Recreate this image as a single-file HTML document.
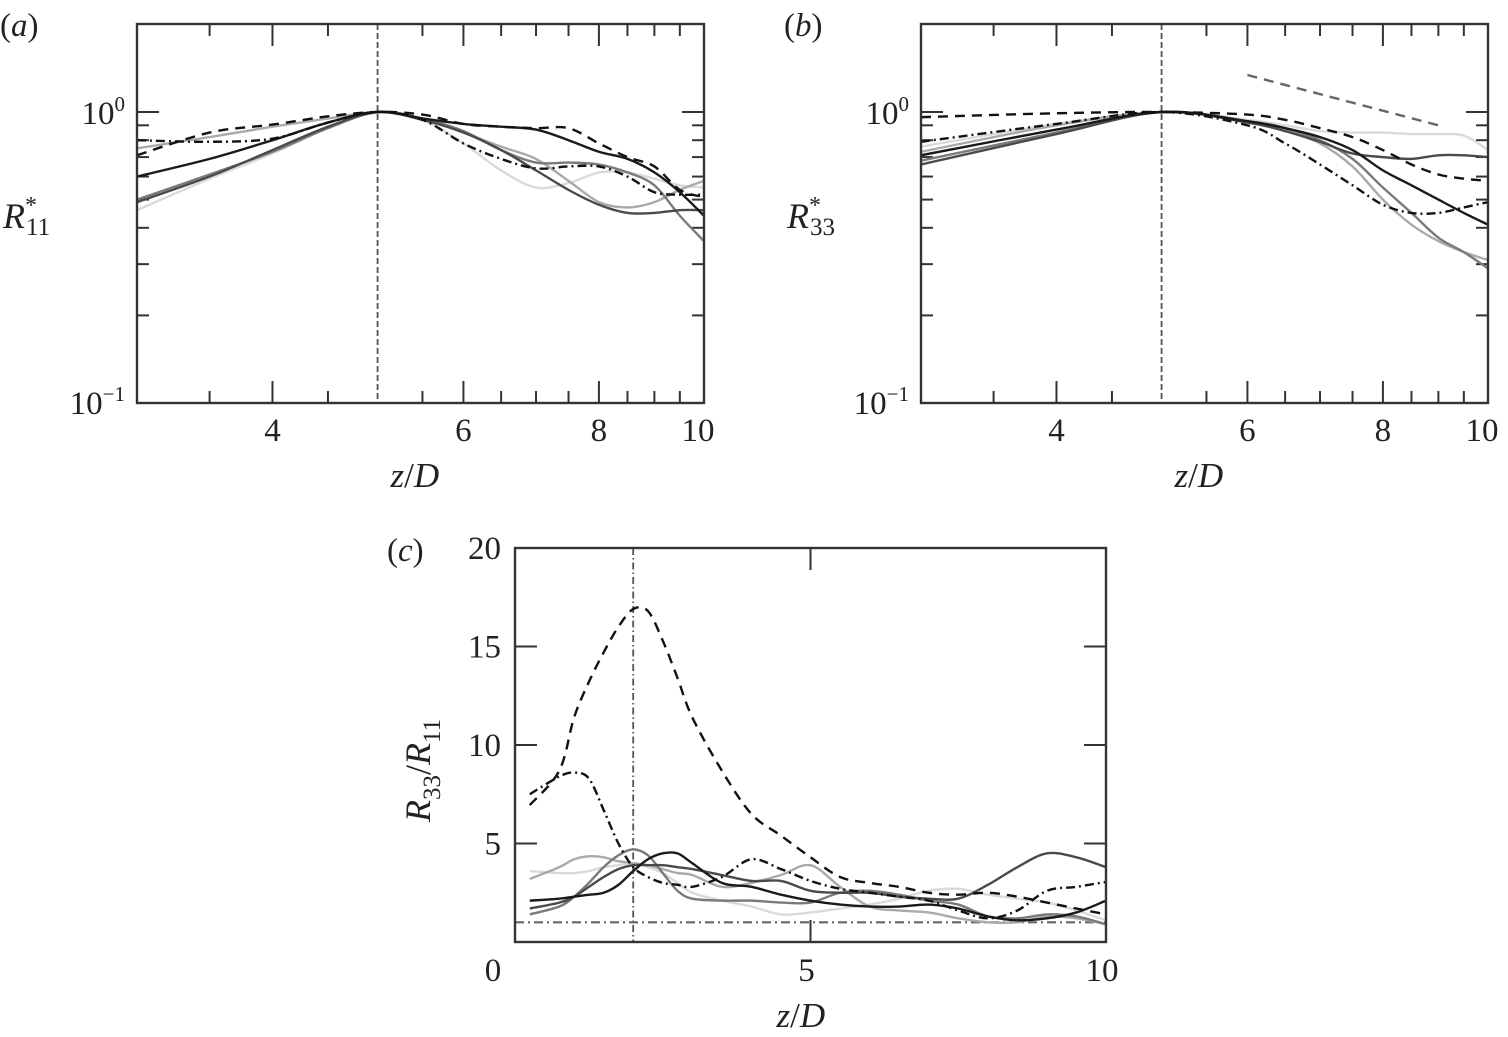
<!DOCTYPE html>
<html><head><meta charset="utf-8">
<style>
html,body{margin:0;padding:0;background:#fff;}
svg{display:block;font-family:"Liberation Serif",serif;}
</style></head>
<body>
<svg id="fig" width="1508" height="1037" viewBox="0 0 1508 1037" xmlns="http://www.w3.org/2000/svg"></svg>
<script>
// ---------- data ----------
const zA = [3,3.5,4,4.5,5,5.5,6,6.5,7,7.5,8,8.5,9,9.5,10];
const a_dashed  = [0.71,0.85,0.905,0.966,1,0.98,0.91,0.89,0.88,0.88,0.78,0.70,0.65,0.54,0.51];
const a_dashdot = [0.80,0.79,0.81,0.92,1,0.94,0.78,0.69,0.64,0.65,0.65,0.60,0.53,0.52,0.52];
const a_black   = [0.60,0.69,0.80,0.92,1,0.95,0.91,0.89,0.87,0.80,0.73,0.69,0.62,0.53,0.44];
const a_dark    = [0.49,0.60,0.74,0.89,1,0.94,0.85,0.74,0.63,0.54,0.48,0.45,0.45,0.46,0.46];
const a_mid     = [0.50,0.61,0.73,0.88,1,0.95,0.86,0.74,0.67,0.67,0.66,0.62,0.56,0.44,0.36];
const a_light   = [0.75,0.82,0.89,0.95,1,0.95,0.85,0.76,0.69,0.58,0.49,0.47,0.49,0.54,0.58];
const a_vlight  = [0.46,0.59,0.72,0.88,1,0.94,0.78,0.63,0.55,0.57,0.62,0.62,0.59,0.56,0.55];

const zB = [3,4,5,6,6.5,7,7.5,8,8.5,9,9.5,10];
const b_dashed  = [0.96,0.99,1,0.98,0.94,0.88,0.82,0.74,0.66,0.61,0.59,0.58];
const b_dashdot = [0.79,0.91,1,0.90,0.78,0.66,0.56,0.48,0.45,0.45,0.47,0.49];
const b_black   = [0.71,0.87,1,0.93,0.88,0.82,0.74,0.63,0.56,0.50,0.45,0.41];
const b_dark    = [0.66,0.84,1,0.92,0.86,0.79,0.72,0.70,0.69,0.71,0.71,0.70];
const b_mid     = [0.68,0.85,1,0.93,0.88,0.80,0.69,0.55,0.45,0.37,0.33,0.29];
const b_light   = [0.73,0.90,1,0.93,0.86,0.78,0.65,0.50,0.41,0.36,0.33,0.31];
const b_vlight  = [0.76,0.91,1,0.94,0.90,0.86,0.85,0.85,0.84,0.84,0.83,0.74];
const b_slopeZ  = [6,9];
const b_slopeR  = [1.34,0.90];

const zC = [0.25,0.75,1,1.25,1.5,1.75,2,2.25,2.5,2.75,3,3.5,4,4.5,5,5.5,6,6.5,7,7.5,8,8.5,9,9.5,10];
const c_dashed  = [6.95,8.7,11.4,13.2,14.7,16.0,16.9,16.8,15.3,13.4,11.4,8.7,6.5,5.4,4.3,3.3,3.0,2.8,2.5,2.4,2.5,2.3,2.0,1.7,1.4];
const c_dashdot = [7.5,8.4,8.6,8.3,6.7,5.0,3.8,3.3,3.0,2.9,2.8,3.3,4.2,3.7,3.1,2.7,2.5,2.3,2.1,1.6,1.2,1.6,2.6,2.8,3.05];
const c_black   = [2.1,2.2,2.3,2.4,2.5,2.9,3.6,4.2,4.5,4.5,4.0,3.0,2.8,2.4,2.1,1.9,1.8,1.8,1.9,1.7,1.3,1.1,1.2,1.5,2.1];
const c_dark    = [1.7,2.0,2.3,2.8,3.3,3.7,3.9,3.9,3.9,3.8,3.7,3.4,3.1,3.1,2.6,2.5,2.5,2.3,2.2,2.2,2.9,3.8,4.5,4.3,3.8];
const c_mid     = [1.4,1.8,2.3,3.0,3.8,4.4,4.7,4.4,3.5,2.6,2.2,2.1,2.1,2.0,2.0,2.5,2.6,2.4,2.1,1.9,1.3,1.2,1.4,1.3,0.9];
const c_light   = [3.2,3.8,4.2,4.35,4.3,4.1,4.0,3.9,3.7,3.5,3.4,2.8,3.0,3.4,3.9,2.8,1.8,1.6,1.5,1.2,1.0,1.0,1.3,1.2,0.9];
const c_vlight  = [3.6,3.5,3.5,3.6,3.8,3.9,4.0,3.8,3.5,3.0,2.5,2.1,1.8,1.4,1.5,1.7,1.9,2.2,2.6,2.7,2.4,2.2,2.0,1.6,1.1];

const xTicksAmajor = [4,6,8,10];
const xTicksAminor = [3.5,4.5,5.5,6.5,7,7.5,8.5,9,9.5];
const yTicksLogMinor = [0.2,0.3,0.4,0.5,0.6,0.7,0.8,0.9,2];
const yTicksC = [0,5,10,15,20];
const yLabelsC = [5,10,15,20];
const xTicksC = [0,5,10];

// ---------- helpers ----------
const NS="http://www.w3.org/2000/svg";
const svg=document.getElementById('fig');
function mk(tag,attrs,parent){const e=document.createElementNS(NS,tag);for(const k in attrs)e.setAttribute(k,attrs[k]);(parent||svg).appendChild(e);return e;}
function smooth(pts){
  let d=`M${pts[0][0].toFixed(2)},${pts[0][1].toFixed(2)}`;
  for(let i=0;i<pts.length-1;i++){
    const p0=pts[Math.max(0,i-1)],p1=pts[i],p2=pts[i+1],p3=pts[Math.min(pts.length-1,i+2)];
    const c1=[p1[0]+(p2[0]-p0[0])/6,p1[1]+(p2[1]-p0[1])/6];
    const c2=[p2[0]-(p3[0]-p1[0])/6,p2[1]-(p3[1]-p1[1])/6];
    d+=` C${c1[0].toFixed(2)},${c1[1].toFixed(2)} ${c2[0].toFixed(2)},${c2[1].toFixed(2)} ${p2[0].toFixed(2)},${p2[1].toFixed(2)}`;
  }
  return d;
}
const styles={
  dashed:{stroke:'#111',dash:'10,7',w:2.4},
  dashdot:{stroke:'#111',dash:'9,4,2,4',w:2.4},
  black:{stroke:'#1a1a1a',dash:'',w:2.4},
  dark:{stroke:'#4a4a4a',dash:'',w:2.4},
  mid:{stroke:'#7a7a7a',dash:'',w:2.4},
  light:{stroke:'#aaaaaa',dash:'',w:2.4},
  vlight:{stroke:'#dadada',dash:'',w:2.4}
};
function series(g,xs,ys,fx,fy,st,name){
  const pts=xs.map((x,i)=>[fx(x),fy(ys[i])]);
  const p=mk('path',{d:smooth(pts),fill:'none',stroke:st.stroke,'stroke-width':st.w,'stroke-dasharray':st.dash},g);
  
  
}
function txt(x,y,s,attrs,parent){const t=mk('text',Object.assign({x:x,y:y,'font-size':32,fill:'#222'},attrs||{}),parent);t.innerHTML=s;return t;}

// ---------- log panels ----------
function logPanel(ox,label,ylab,data,name,extra){
  const L=ox,R=ox+567,T=24,B=403;
  const fx=z=>L+(R-L)*Math.log10(z/3)/Math.log10(10/3);
  const fy=v=>112-291*Math.log10(v);
  const g=mk('g',{});
  
  
  const tk=mk('g',{stroke:'#333','stroke-width':2},g);
  xTicksAmajor.forEach(z=>{const x=fx(z);mk('line',{x1:x,y1:B,x2:x,y2:B-22},tk);mk('line',{x1:x,y1:T,x2:x,y2:T+22},tk);});
  xTicksAminor.forEach(z=>{const x=fx(z);mk('line',{x1:x,y1:B,x2:x,y2:B-12},tk);mk('line',{x1:x,y1:T,x2:x,y2:T+12},tk);});
  [1].forEach(v=>{const y=fy(v);mk('line',{x1:L,y1:y,x2:L+22,y2:y},tk);mk('line',{x1:R,y1:y,x2:R-22,y2:y},tk);});
  yTicksLogMinor.forEach(v=>{const y=fy(v);if(y>T+1){mk('line',{x1:L,y1:y,x2:L+12,y2:y},tk);mk('line',{x1:R,y1:y,x2:R-12,y2:y},tk);}});
  mk('line',{x1:fx(5),y1:T,x2:fx(5),y2:B,stroke:'#555','stroke-width':1.8,'stroke-dasharray':'6,3'},g);
  const clip='clip'+name;
  const cp=mk('clipPath',{id:clip},g);mk('rect',{x:L,y:T,width:R-L,height:B-T},cp);
  const sg=mk('g',{'clip-path':`url(#${clip})`},g);
  for(const k in data) series(sg,data[k].x,data[k].y,fx,fy,styles[k],name+'-'+k);
  if(extra) extra(sg,fx,fy);
  mk('rect',{x:L,y:T,width:R-L,height:B-T,fill:'none',stroke:'#333','stroke-width':2.4},g);
  xTicksAmajor.forEach(z=>{txt(z===10?fx(z)-6:fx(z),441,z,{'text-anchor':'middle','font-size':33},g);});
  txt(L-12,124,'10<tspan dy="-13" font-size="21">0</tspan>',{'text-anchor':'end','font-size':33},g);
  txt(L-12,414,'10<tspan dy="-13" font-size="21">−1</tspan>',{'text-anchor':'end','font-size':33},g);
  txt(L+(R-L)/2-30,487,'<tspan font-style="italic">z</tspan>/<tspan font-style="italic">D</tspan>',{'font-size':35},g);
  txt(ox-137,36,'(<tspan font-style="italic">'+label+'</tspan>)',{'font-size':33},g);
  txt(ox-134,228,'<tspan font-style="italic">R</tspan><tspan dy="-15" font-size="24">*</tspan><tspan dy="22" dx="-11" font-size="25">'+ylab+'</tspan>',{'font-size':36},g);
}
logPanel(137,'a','11',{
  vlight:{x:zA,y:a_vlight},light:{x:zA,y:a_light},mid:{x:zA,y:a_mid},dark:{x:zA,y:a_dark},
  black:{x:zA,y:a_black},dashdot:{x:zA,y:a_dashdot},dashed:{x:zA,y:a_dashed}},'panel-a');
logPanel(921,'b','33',{
  vlight:{x:zB,y:b_vlight},light:{x:zB,y:b_light},mid:{x:zB,y:b_mid},dark:{x:zB,y:b_dark},
  black:{x:zB,y:b_black},dashdot:{x:zB,y:b_dashdot},dashed:{x:zB,y:b_dashed}},'panel-b',
  (g,fx,fy)=>{
    const l=mk('line',{x1:fx(b_slopeZ[0]),y1:fy(b_slopeR[0]),x2:fx(b_slopeZ[1]),y2:fy(b_slopeR[1]),stroke:'#666','stroke-width':2.4,'stroke-dasharray':'10,7'},g);
    
    
  });

// ---------- panel c ----------
(function(){
  const L=515,R=1106,T=548,B=942;
  const fx=z=>L+(R-L)*z/10;
  const fy=v=>B-(B-T)*v/20;
  const g=mk('g',{});
  
  
  const tk=mk('g',{stroke:'#333','stroke-width':2},g);
  yTicksC.forEach(v=>{const y=fy(v);mk('line',{x1:L,y1:y,x2:L+22,y2:y},tk);mk('line',{x1:R,y1:y,x2:R-22,y2:y},tk);});
  xTicksC.forEach(z=>{const x=fx(z);mk('line',{x1:x,y1:B,x2:x,y2:B-22},tk);mk('line',{x1:x,y1:T,x2:x,y2:T+22},tk);});
  mk('line',{x1:fx(2),y1:T,x2:fx(2),y2:B,stroke:'#555','stroke-width':1.8,'stroke-dasharray':'7,3,1.5,3'},g);
  mk('line',{x1:L,y1:fy(1),x2:R,y2:fy(1),stroke:'#666','stroke-width':2.2,'stroke-dasharray':'9,4,2,4'},g);
  const cp=mk('clipPath',{id:'clipc'},g);mk('rect',{x:L,y:T,width:R-L,height:B-T},cp);
  const sg=mk('g',{'clip-path':'url(#clipc)'},g);
  const d={vlight:c_vlight,light:c_light,mid:c_mid,dark:c_dark,black:c_black,dashdot:c_dashdot,dashed:c_dashed};
  for(const k in d) series(sg,zC,d[k],fx,fy,styles[k],'panel-c-'+k);
  mk('rect',{x:L,y:T,width:R-L,height:B-T,fill:'none',stroke:'#333','stroke-width':2.4},g);
  yLabelsC.forEach(v=>txt(L-14,fy(v)+11,v,{'text-anchor':'end','font-size':33},g));
  txt(493,981,'0',{'text-anchor':'middle','font-size':33},g);
  txt(fx(5)-4,981,'5',{'text-anchor':'middle','font-size':33},g);
  txt(fx(10)-4,981,'10',{'text-anchor':'middle','font-size':33},g);
  txt(fx(5)-34,1027,'<tspan font-style="italic">z</tspan>/<tspan font-style="italic">D</tspan>',{'font-size':35},g);
  txt(387,561,'(<tspan font-style="italic">c</tspan>)',{'font-size':33},g);
  txt(0,0,'<tspan font-style="italic">R</tspan><tspan dy="10" font-size="25">33</tspan><tspan dy="-10">/</tspan><tspan font-style="italic">R</tspan><tspan dy="10" font-size="25">11</tspan>',{'font-size':36,transform:'translate(430,822) rotate(-90)'},g);
})();
</script>
</body></html>
